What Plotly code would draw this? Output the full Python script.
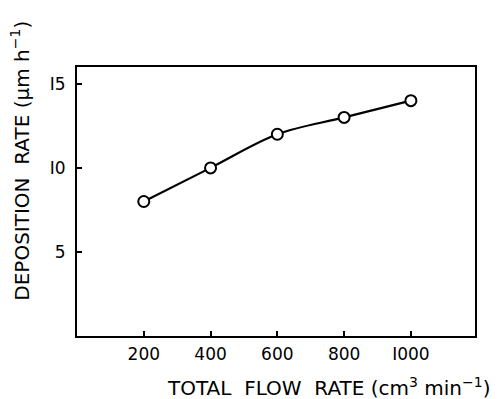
import plotly.graph_objects as go

flow_rate = [200, 400, 600, 800, 1000]
deposition_rate = [8, 10, 12, 13, 14]
x_ticks = [200, 400, 600, 800, 1000]
x_tick_labels = ["200", "400", "600", "800", "I000"]
y_ticks = [5, 10, 15]
y_tick_labels = ["5", "I0", "I5"]

fig = go.Figure()
fig.add_trace(go.Scatter(
    x=flow_rate, y=deposition_rate, mode="lines+markers",
    line=dict(color="black", width=2.2, shape="spline", smoothing=1.0),
    marker=dict(symbol="circle", size=11, color="white", line=dict(color="black", width=2)),
    showlegend=False,
))

tick_font = dict(family="DejaVu Sans", size=17, color="black")
fig.update_layout(
    width=499, height=399,
    margin=dict(l=69, r=32, t=59, b=71),
    paper_bgcolor="white", plot_bgcolor="white",
    font=tick_font,
    xaxis=dict(range=[0, 1192], tickvals=x_ticks, ticktext=x_tick_labels,
               ticks="inside", ticklen=5, tickwidth=2, tickcolor="black",
               showline=True, linecolor="black", linewidth=2, mirror=True,
               showgrid=False, zeroline=False, tickfont=tick_font, ticklabelstandoff=2),
    yaxis=dict(range=[0, 16], tickvals=y_ticks, ticktext=y_tick_labels,
               ticks="inside", ticklen=5, tickwidth=2, tickcolor="black",
               showline=True, linecolor="black", linewidth=2, mirror=True,
               showgrid=False, zeroline=False, tickfont=tick_font, ticklabelstandoff=6),
    annotations=[
        dict(text="TOTAL  FLOW  RATE (cm<sup>3</sup> min<sup>−1</sup>)", xref="paper", yref="paper",
             x=1.045, y=-0.19, xanchor="right", yanchor="middle", showarrow=False,
             font=dict(family="DejaVu Sans", size=20, color="black")),
        dict(text="DEPOSITION  RATE (μm h<sup>−1</sup>)", xref="paper", yref="paper",
             x=-0.143, y=0.652, textangle=-90, xanchor="center", yanchor="middle", showarrow=False,
             font=dict(family="DejaVu Sans", size=20, color="black")),
    ],
)
fig.write_html("out.html")
